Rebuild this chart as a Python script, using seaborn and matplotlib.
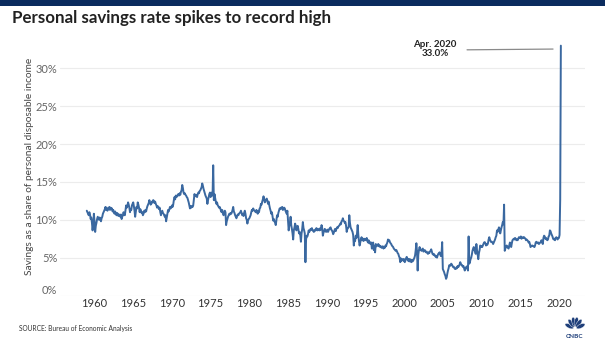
import numpy as np
import pandas as pd
import matplotlib
matplotlib.use("Agg")
import matplotlib.pyplot as plt
import seaborn as sns
from matplotlib.patches import Ellipse, Rectangle

# ---------------- data (monthly personal savings rate, %) ----------------
rate_1950s = [11.2, 11.0, 10.8, 10.6, 11.0, 10.7, 10.1, 10.3, 9.6, 8.6, 9.4, 10.8]
rate_1960s = [
    9.8, 8.4, 9.2, 9.6, 10.1, 10.4, 10.2, 10.0, 10.3, 10.1, 9.8, 10.2,
    10.4, 10.8, 11.0, 11.2, 11.4, 11.7, 11.3, 11.6, 11.2, 11.4, 11.5, 11.7,
    11.3, 11.6, 11.4, 11.5, 11.1, 11.3, 11.0, 10.8, 11.1, 10.8, 10.6, 10.9,
    10.8, 10.5, 10.7, 10.6, 10.4, 10.7, 10.1, 10.4, 10.6, 11.0, 10.7, 10.6,
    11.2, 11.9, 11.6, 11.8, 12.3, 12.0, 11.6, 11.0, 11.4, 11.3, 11.9, 12.1,
    12.3, 11.8, 11.2, 10.4, 11.0, 11.7, 11.5, 12.3, 12.0, 11.6, 11.0, 11.4,
    11.2, 10.9, 11.0, 10.6, 10.8, 11.2, 11.0, 11.3, 11.1, 11.5, 11.8, 12.0,
    12.2, 12.6, 12.3, 12.0, 12.1, 12.4, 12.3, 12.6, 12.5, 12.2, 12.4, 12.1,
    11.9, 11.6, 11.8, 11.7, 11.4, 11.6, 11.0, 10.6, 11.0, 11.2, 10.9, 10.8,
    10.6, 10.4, 10.6, 9.8, 10.3, 10.8, 11.3, 11.1, 11.4, 11.7, 11.5, 11.6,
]
rate_1970s = [
    11.9, 11.7, 12.0, 12.6, 13.0, 12.7, 13.2, 13.0, 13.1, 13.3, 13.4, 13.2,
    13.5, 13.3, 13.7, 13.9, 14.6, 14.2, 13.6, 13.4, 13.5, 13.3, 13.2, 13.0,
    12.9, 12.6, 12.3, 11.9, 11.5, 11.8, 11.6, 11.8, 11.7, 11.9, 12.6, 13.4,
    13.1, 13.3, 13.2, 13.0, 13.4, 13.6, 13.5, 13.8, 13.9, 14.1, 14.3, 14.8,
    14.5, 14.1, 13.8, 13.5, 13.2, 13.0, 12.8, 12.1, 12.6, 13.0, 13.4, 13.6,
    13.0, 13.3, 13.6, 13.2, 17.2, 12.6, 13.4, 12.9, 12.4, 12.1, 12.3, 11.9,
    11.8, 11.6, 11.7, 11.5, 11.2, 11.0, 11.3, 10.9, 10.6, 10.8, 11.2, 11.0,
    9.3, 9.8, 10.1, 10.4, 10.6, 10.8, 10.7, 10.9, 10.8, 11.0, 11.3, 11.7,
    11.1, 10.9, 10.6, 10.4, 10.2, 10.5, 10.7, 10.6, 10.8, 10.9, 11.0, 11.2,
    10.9, 10.6, 10.8, 10.5, 10.9, 11.2, 10.8, 10.2, 10.0, 9.5, 9.9, 10.1,
]
rate_1980s = [
    10.2, 10.4, 10.6, 11.0, 11.3, 11.2, 11.5, 11.3, 11.2, 11.1, 11.0, 11.3,
    11.0, 10.8, 11.2, 11.0, 11.5, 11.6, 12.1, 12.0, 12.4, 12.7, 13.1, 12.8,
    12.3, 12.5, 12.6, 12.8, 12.5, 12.1, 12.4, 11.9, 11.5, 11.2, 10.8, 11.0,
    10.4, 9.9, 10.1, 9.8, 9.6, 9.3, 9.9, 10.6, 10.4, 10.9, 11.2, 11.5,
    11.4, 11.6, 11.5, 11.7, 11.3, 11.4, 11.6, 11.5, 11.2, 11.0, 10.8, 11.2,
    9.8, 8.6, 9.2, 9.6, 10.4, 9.3, 8.8, 8.2, 7.4, 8.6, 9.0, 9.5,
    9.2, 8.6, 9.0, 9.2, 8.8, 8.2, 8.4, 8.0, 7.1, 8.2, 8.8, 9.7,
    8.9, 8.6, 8.2, 4.4, 7.4, 7.9, 7.8, 8.1, 8.6, 8.4, 8.6, 8.8,
    8.7, 8.9, 8.6, 8.6, 8.4, 8.5, 8.7, 8.6, 8.9, 8.8, 8.6, 8.7,
    8.8, 8.6, 8.9, 8.7, 9.3, 8.9, 7.9, 8.3, 8.5, 8.8, 8.6, 8.4,
]
rate_1990s = [
    8.5, 8.7, 8.4, 8.6, 8.8, 8.9, 9.0, 8.7, 8.6, 8.4, 8.1, 8.3,
    8.6, 8.8, 8.5, 8.8, 9.0, 8.9, 9.1, 9.2, 9.3, 9.5, 9.4, 9.8,
    9.9, 10.2, 9.9, 9.8, 9.6, 9.7, 9.2, 8.4, 8.8, 8.9, 9.1, 10.6,
    9.6, 9.0, 8.8, 8.6, 8.4, 8.0, 6.6, 7.4, 7.2, 7.9, 7.6, 8.2,
    9.3, 8.0, 7.2, 6.6, 7.0, 7.4, 7.7, 7.3, 7.5, 7.2, 7.5, 7.3,
    7.4, 7.3, 7.6, 7.2, 7.0, 7.3, 6.9, 7.05, 6.8, 7.0, 6.2, 6.8,
    7.0, 6.0, 6.5, 5.7, 6.8, 6.5, 6.7, 6.6, 6.8, 6.5, 6.6, 6.4,
    6.5, 6.3, 6.4, 6.5, 6.2, 6.4, 6.3, 6.6, 6.5, 6.8, 7.0, 7.4,
    7.2, 7.3, 7.05, 6.9, 6.8, 6.6, 6.5, 6.4, 6.2, 6.1, 6.0, 5.9,
    6.0, 5.8, 5.6, 5.5, 5.2, 5.0, 4.4, 4.9, 4.6, 4.8, 4.8, 4.6,
]
rate_2000s = [
    4.8, 4.4, 4.6, 4.9, 5.1, 4.9, 4.6, 4.8, 4.5, 4.8, 4.6, 4.4,
    4.7, 4.5, 4.6, 4.8, 5.0, 5.3, 6.0, 6.9, 5.8, 3.3, 5.4, 6.0,
    6.4, 6.1, 6.0, 5.9, 6.1, 6.2, 5.8, 5.9, 6.0, 5.8, 5.7, 5.8,
    5.6, 5.5, 5.7, 5.6, 5.8, 5.9, 6.1, 5.8, 5.5, 5.4, 5.5, 5.3,
    5.3, 5.1, 5.2, 5.0, 5.3, 5.5, 5.6, 5.7, 5.4, 5.2, 5.5, 7.05,
    3.5, 3.3, 3.1, 2.8, 2.6, 2.2, 2.4, 2.9, 3.3, 3.6, 4.0, 3.9,
    4.0, 4.2, 4.1, 3.9, 3.75, 3.8, 3.6, 3.5, 3.5, 3.7, 3.6, 3.9,
    3.75, 3.9, 4.1, 4.4, 4.2, 4.0, 4.0, 3.8, 3.9, 3.6, 3.3, 3.5,
    3.75, 3.6, 3.9, 3.3, 7.8, 4.2, 4.4, 4.8, 5.0, 5.4, 5.9, 6.2,
    6.4, 6.0, 5.8, 5.5, 6.8, 6.0, 5.4, 4.8, 5.6, 6.0, 6.6, 6.4,
]
rate_2010s = [
    6.5, 6.4, 6.6, 6.8, 7.0, 7.05, 6.9, 6.6, 6.8, 6.7, 6.9, 7.4,
    7.7, 7.4, 7.2, 7.05, 7.1, 7.0, 6.8, 7.0, 7.2, 7.4, 7.7, 7.9,
    8.6, 8.4, 8.7, 9.0, 8.8, 8.2, 8.6, 9.0, 9.3, 9.7, 9.4, 12.0,
    5.9, 6.2, 6.4, 6.6, 6.5, 6.3, 6.2, 6.6, 7.0, 6.8, 6.4, 6.9,
    7.3, 7.4, 7.5, 7.4, 7.6, 7.5, 7.3, 7.4, 7.3, 7.5, 7.7, 7.6,
    7.6, 7.8, 7.5, 7.6, 7.7, 7.6, 7.7, 7.6, 7.5, 7.3, 7.4, 7.3,
    7.2, 7.0, 7.1, 6.8, 6.4, 6.5, 6.6, 6.6, 6.5, 6.5, 6.4, 6.6,
    7.0, 7.1, 7.0, 6.9, 7.0, 6.8, 6.9, 7.0, 7.1, 7.3, 7.0, 6.8,
    7.6, 7.9, 7.8, 7.5, 7.6, 7.4, 7.3, 7.4, 7.8, 7.9, 8.6, 8.5,
    8.2, 8.0, 7.8, 7.5, 7.4, 7.5, 7.3, 7.6, 7.7, 7.6, 7.4, 7.6,
]
rate_2020s = [7.6, 8.0, 12.7, 33.0]

year_ticks = [1960, 1965, 1970, 1975, 1980, 1985, 1990, 1995, 2000, 2005, 2010, 2015, 2020]
pct_ticks = [0, 5, 10, 15, 20, 25, 30]

title_text = "Personal savings rate spikes to record high"
ylabel_text = "Savings as a share of personal disposable income"
source_text = "SOURCE: Bureau of Economic Analysis"
callout_text = "Apr. 2020\n33.0%"

rates = rate_1950s + rate_1960s + rate_1970s + rate_1980s + rate_1990s + rate_2000s + rate_2010s + rate_2020s
months = pd.date_range("1959-01-01", periods=len(rates), freq="MS")
df = pd.DataFrame({"year": months.year + (months.month - 1) / 12.0, "rate": rates})

# ---------------- style ----------------
sns.set_theme(style="white")
plt.rcParams["font.family"] = ["Lato", "DejaVu Sans"]

W, H = 605, 341
fig = plt.figure(figsize=(W / 100, H / 100), dpi=100)
fig.patch.set_facecolor("white")

# top navy band
fig.add_artist(Rectangle((0, 1 - 6 / H), 1, 6 / H, transform=fig.transFigure,
                         facecolor="#0b2b5e", edgecolor="none"))

ax_left, ax_right = 60, 585
ax_top, ax_bot = 34.3, 295.5
ax = fig.add_axes([ax_left / W, 1 - ax_bot / H, (ax_right - ax_left) / W, (ax_bot - ax_top) / H])

sns.lineplot(data=df, x="year", y="rate", ax=ax, color="#3a68a0", linewidth=1.4,
             estimator=None, sort=True)

ax.set_xlim(1955.54, 2023.37)
ax.set_ylim(0, 34.5)
ax.set_yticks(pct_ticks)
ax.set_yticklabels([f"{v}%" for v in pct_ticks])
ax.set_xticks(year_ticks)
ax.set_xticklabels([str(y) for y in year_ticks])
ax.set_xlabel("")
ax.set_ylabel("")
for s in ax.spines.values():
    s.set_visible(False)
ax.yaxis.grid(True, color="#ececec", linewidth=0.8)
ax.xaxis.grid(False)
ax.set_axisbelow(True)
ax.tick_params(axis="y", length=0, pad=2, labelsize=8, labelcolor="#666666")
ax.tick_params(axis="x", length=0, pad=2, labelsize=8, labelcolor="#333333")
# 0% label sits just above its line in the reference
ax.get_yticklabels()[0].set_verticalalignment("bottom")

# callout
ax.plot([2008.13, 2019.24], [32.45, 32.55], color="#8a8a8a", linewidth=0.9)
ax.text(2004.0, 32.5, callout_text, ha="center", va="center", fontsize=7,
        fontweight="bold", color="#222222", linespacing=1.0)

# texts
fig.text(12 / W, 1 - 18 / H, title_text, fontsize=12.2, fontweight="bold",
         color="#222222", va="center", ha="left")
fig.text(30 / W, 1 - 166 / H, ylabel_text, rotation=90, fontsize=7.3,
         color="#444444", va="center", ha="center")
fig.text(19 / W, 1 - 328 / H, source_text, fontsize=4.8, color="#333333",
         va="center", ha="left")

# CNBC peacock mark
lax = fig.add_axes([560 / W, 1 - 341 / H, 30 / W, 27 / H])
lax.set_xlim(-1, 1)
lax.set_ylim(-0.9, 0.85)
lax.set_aspect("auto")
lax.axis("off")
for ang in [155, 127, 101, 79, 53, 25]:
    r = np.deg2rad(ang)
    cx, cy = 0.42 * np.cos(r), -0.15 + 0.5 * np.sin(r)
    lax.add_patch(Ellipse((cx, cy), 0.62, 0.26, angle=ang, facecolor="#1f3f7a",
                          edgecolor="white", linewidth=0.3))
lax.text(0, -0.62, "CNBC", ha="center", va="center", fontsize=4.6,
         fontweight="bold", color="#1f3f7a")

fig.savefig("out.png", dpi=100, facecolor="white")
